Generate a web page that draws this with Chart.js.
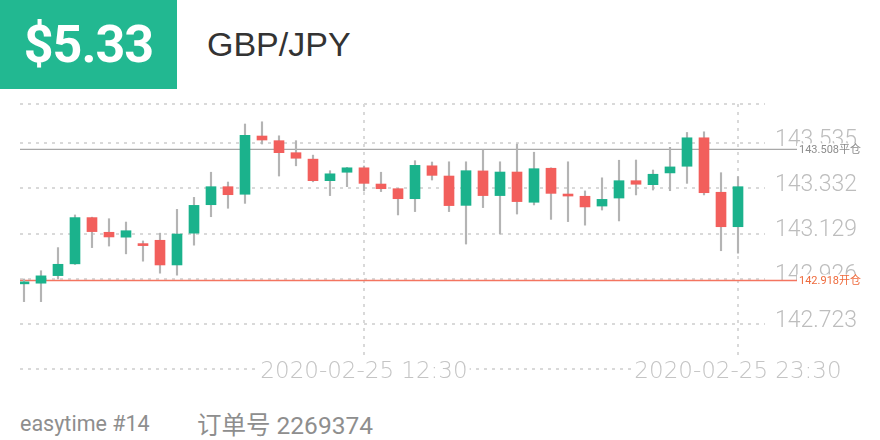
<!DOCTYPE html>
<html>
<head>
<meta charset="utf-8">
<script src="https://cdn.jsdelivr.net/npm/chart.js@4.4.1/dist/chart.umd.min.js"></script>
<style>
html,body{margin:0;padding:0;background:#fff;width:880px;height:440px;overflow:hidden}
#badge{position:absolute;left:0;top:0;width:177px;height:89px;background:#22b891;color:#fff;display:flex;align-items:center;justify-content:center;font-family:Roboto,sans-serif;font-weight:700;font-size:52px;letter-spacing:-1px}
#pair{position:absolute;left:207px;top:0;height:89px;display:flex;align-items:center;font-family:"Liberation Sans",Arial,sans-serif;font-size:34px;color:#333}
#foot1{position:absolute;left:20px;top:408px;height:30px;display:flex;align-items:center;font-family:Roboto,sans-serif;font-size:21.5px;color:#8e8e8e;white-space:pre}
#foot2{position:absolute;left:197px;top:408px;height:30px;display:flex;align-items:center;font-family:Roboto,"Noto Sans CJK SC",sans-serif;font-size:24.5px;color:#8e8e8e;white-space:pre}
#chart{position:absolute;left:0;top:0}
</style>
</head>
<body>
<div id="badge">$5.33</div>
<div id="pair">GBP/JPY</div>
<div id="foot1">easytime #14</div>
<div id="foot2">订单号 2269374</div>
<canvas id="chart" width="880" height="440"></canvas>
<script>
// ---- data ----
const timeLabels = [
  '2020-02-25 02:30','2020-02-25 03:00','2020-02-25 03:30','2020-02-25 04:00','2020-02-25 04:30',
  '2020-02-25 05:00','2020-02-25 05:30','2020-02-25 06:00','2020-02-25 06:30','2020-02-25 07:00',
  '2020-02-25 07:30','2020-02-25 08:00','2020-02-25 08:30','2020-02-25 09:00','2020-02-25 09:30',
  '2020-02-25 10:00','2020-02-25 10:30','2020-02-25 11:00','2020-02-25 11:30','2020-02-25 12:00',
  '2020-02-25 12:30','2020-02-25 13:00','2020-02-25 13:30','2020-02-25 14:00','2020-02-25 14:30',
  '2020-02-25 15:00','2020-02-25 15:30','2020-02-25 16:00','2020-02-25 16:30','2020-02-25 17:00',
  '2020-02-25 17:30','2020-02-25 18:00','2020-02-25 18:30','2020-02-25 19:00','2020-02-25 19:30',
  '2020-02-25 20:00','2020-02-25 20:30','2020-02-25 21:00','2020-02-25 21:30','2020-02-25 22:00',
  '2020-02-25 22:30','2020-02-25 23:00','2020-02-25 23:30'
];
const opens = [142.903,142.906,142.940,142.993,143.201,143.135,143.113,143.078,143.099,142.988,
  143.131,143.259,143.340,143.306,143.568,143.547,143.493,143.464,143.367,143.405,
  143.425,143.352,143.331,143.286,143.434,143.388,143.256,143.411,143.300,143.406,
  143.270,143.423,143.307,143.297,143.253,143.289,143.367,143.349,143.402,143.432,
  143.560,143.315,143.160];
const highs = [142.925,142.962,143.066,143.213,143.203,143.196,143.181,143.096,143.131,143.238,
  143.292,143.405,143.361,143.622,143.632,143.569,143.547,143.482,143.412,143.427,
  143.433,143.405,143.332,143.457,143.451,143.452,143.452,143.505,143.452,143.532,
  143.495,143.425,143.452,143.321,143.380,143.459,143.460,143.415,143.517,143.584,
  143.587,143.403,143.385];
const lows = [142.823,142.823,142.925,142.990,143.066,143.073,143.038,143.005,142.951,142.942,
  143.077,143.205,143.243,143.265,143.532,143.388,143.434,143.362,143.300,143.340,
  143.321,143.318,143.213,143.228,143.370,143.228,143.082,143.246,143.127,143.217,
  143.258,143.193,143.183,143.167,143.235,143.186,143.303,143.325,143.322,143.355,
  143.303,143.052,143.041];
const closes = [142.909,142.939,142.991,143.201,143.138,143.114,143.142,143.075,142.988,143.127,
  143.256,143.340,143.304,143.571,143.550,143.493,143.468,143.367,143.398,143.425,
  143.355,143.331,143.286,143.436,143.391,143.255,143.412,143.300,143.406,143.273,
  143.421,143.310,143.298,143.249,143.283,143.367,143.351,143.396,143.429,143.560,
  143.313,143.160,143.340];
const yTickLabels = ['142.723','142.926','143.129','143.332','143.535'];
const xTickIndexes = [20, 42];
const markerValues = [143.508, 142.918];
const markerLabels = ['143.508平仓', '142.918开仓'];

// ---- styles ----
const UP = '#1bb28c', DOWN = '#f25f5c', WICK = '#b4b4b4';
const GRID = '#d9d9d9';
const markerColors = ['#a8a8a8', '#f47560'];
const markerTextColors = ['#8c8c8c', '#ee6a3c'];
const yTickValues = yTickLabels.map(Number);
const Y_MIN = 142.520, Y_MAX = 143.712;
const X_FONT = {family: '"DejaVu Sans", Roboto', size: 23, weight: 200};

const bodyData = opens.map((o, i) => ({x: i, y: [o, closes[i]]}));
const wickData = lows.map((l, i) => ({x: i, y: [l, highs[i]]}));
const bodyColors = opens.map((o, i) => closes[i] >= o ? UP : DOWN);

const markerPlugin = {
  id: 'markers',
  beforeDatasetsDraw(chart) {
    const {ctx, chartArea, scales: {x, y}} = chart;
    ctx.save();
    // white boxes behind x tick labels so grid lines do not run through them
    ctx.font = X_FONT.weight + ' ' + X_FONT.size + 'px ' + X_FONT.family;
    ctx.fillStyle = '#fff';
    xTickIndexes.forEach(v => {
      const px = x.getPixelForValue(v);
      const w = ctx.measureText(timeLabels[v]).width;
      ctx.fillRect(px - w / 2 - 2, chartArea.bottom - 10, w + 4, 24);
    });
    markerValues.forEach((v, k) => {
      const py = y.getPixelForValue(v);
      ctx.strokeStyle = markerColors[k];
      ctx.lineWidth = k === 0 ? 1.2 : 1.5;
      ctx.beginPath();
      ctx.moveTo(chartArea.left, py);
      ctx.lineTo(797, py);
      ctx.stroke();
    });
    ctx.restore();
  },
  afterDraw(chart) {
    const {ctx, scales: {y}} = chart;
    ctx.save();
    ctx.font = '11px Roboto, "Noto Sans CJK SC", sans-serif';
    ctx.textBaseline = 'middle';
    ctx.textAlign = 'left';
    markerValues.forEach((v, k) => {
      const py = y.getPixelForValue(v) + 1;
      const w = ctx.measureText(markerLabels[k]).width;
      ctx.fillStyle = '#fff';
      ctx.fillRect(797, py - 7, w + 4, 14);
      ctx.fillStyle = markerTextColors[k];
      ctx.fillText(markerLabels[k], 799, py);
    });
    ctx.restore();
  }
};

new Chart(document.getElementById('chart'), {
  type: 'bar',
  data: {
    datasets: [
      {data: bodyData, backgroundColor: bodyColors, barThickness: 10, grouped: false, minBarLength: 2, borderWidth: 0},
      {data: wickData, backgroundColor: WICK, barThickness: 1.5, grouped: false, borderWidth: 0}
    ]
  },
  options: {
    responsive: false,
    animation: false,
    events: [],
    layout: {padding: {left: 20, top: 104, right: 0, bottom: 0}},
    plugins: {legend: {display: false}, tooltip: {enabled: false}},
    scales: {
      x: {
        type: 'linear',
        offset: false,
        min: -0.235,
        max: 43.588,
        afterFit(s) { s.height = 71; },
        afterBuildTicks(s) { s.ticks = xTickIndexes.map(v => ({value: v})); },
        border: {display: false, dash: [3, 5]},
        grid: {color: GRID, lineWidth: 2, drawTicks: false, offset: false},
        ticks: {
          z: 1,
          mirror: true,
          autoSkip: false, maxRotation: 0, padding: -17,
          color: '#c4c4c4',
          font: X_FONT,
          callback: v => timeLabels[v]
        }
      },
      y: {
        position: 'right',
        min: Y_MIN,
        max: Y_MAX,
        afterFit(s) { s.width = 115; },
        afterBuildTicks(s) { s.ticks = [Y_MIN, ...yTickValues, Y_MAX].map(v => ({value: v})); },
        border: {display: false, dash: [3, 5]},
        grid: {color: GRID, lineWidth: 2, drawTicks: false},
        ticks: {
          padding: 10, labelOffset: -3,
          color: '#bdbdbd',
          font: {family: 'Roboto', size: 23, weight: 300},
          callback: v => { const k = yTickValues.indexOf(v); return k >= 0 ? yTickLabels[k] : ''; }
        }
      }
    }
  },
  plugins: [markerPlugin]
});
</script>
</body>
</html>
